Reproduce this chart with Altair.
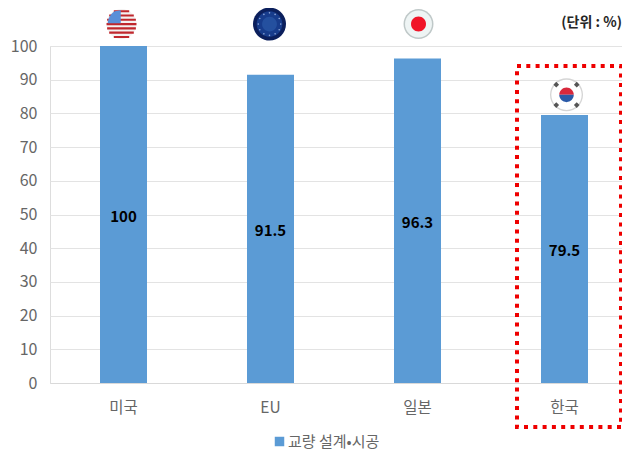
import math
import altair as alt
import pandas as pd

categories = ["미국", "EU", "일본", "한국"]
values = [100, 91.5, 96.3, 79.5]
value_labels = ["100", "91.5", "96.3", "79.5"]
series_name = "교량 설계•시공"
y_ticks = list(range(0, 101, 10))
unit_text = "(단위 : %)"
KR = "Noto Sans CJK KR"

df = pd.DataFrame({"cat": categories, "v": values, "label": value_labels,
                   "mid": [v / 2 for v in values], "series": [series_name] * 4})

x_scale = alt.Scale(domain=categories, range=[0, 588], paddingInner=0.68, paddingOuter=0.34)
y_scale = alt.Scale(domain=[0, 100], nice=False)
X = alt.X("cat:N", scale=x_scale, sort=categories, title=None,
          axis=alt.Axis(labelAngle=0, labelFont=KR, labelFontSize=15.5, labelColor="#666666",
                        labelPadding=17, ticks=False, domainColor="#d9d9d9", domainWidth=1, grid=False))

CIRCLE = "M-1,0A1,1 0 1 1 1,0A1,1 0 1 1 -1,0Z"


def disc(cx, cy, r):
    return f"M{cx - r:.3f},{cy:.3f}A{r},{r} 0 1 1 {cx + r:.3f},{cy:.3f}A{r},{r} 0 1 1 {cx - r:.3f},{cy:.3f}Z"


def stripes():
    n, out = 13, []
    for i in range(0, n, 2):
        y0 = -0.93 + i * 1.86 / n
        y1 = y0 + 1.86 / n
        ym = (abs(y0) + abs(y1)) / 2
        w = math.sqrt(max(0.0, 1 - ym * ym))
        out.append(f"M{-w:.3f},{y0:.3f}L{w:.3f},{y0:.3f}L{w:.3f},{y1:.3f}L{-w:.3f},{y1:.3f}Z")
    return "".join(out)


CANTON = "M-0.92,-0.05L-0.05,-0.05L-0.05,-0.92L-0.45,-0.86A1,1 0 0 0 -0.92,-0.05Z"
STARS = "".join(disc(0.68 * math.cos(i * math.pi / 6), 0.68 * math.sin(i * math.pi / 6), 0.05) for i in range(12))
UPPER = "M-1,0A1,1 0 0 1 1,0L-1,0Z"
LOWER = "M-1,0A1,1 0 0 0 1,0L-1,0Z"
TRI = "".join(
    f"M{sx * 0.62 - 0.17:.2f},{sy * 0.62:.2f}L{sx * 0.62:.2f},{sy * 0.62 - 0.17:.2f}"
    f"L{sx * 0.62 + 0.17:.2f},{sy * 0.62:.2f}L{sx * 0.62:.2f},{sy * 0.62 + 0.17:.2f}Z"
    for sx in (-1, 1) for sy in (-1, 1)
)


def flag(cat, level, dx, d, parts):
    src = pd.DataFrame({"cat": [cat], "v": [level]})
    out = []
    for shape, colour, k in parts:
        out.append(alt.Chart(src).mark_point(shape=shape, filled=True, fill=colour, stroke=None, opacity=1,
                                             size=(d * k) ** 2, xOffset=dx, clip=False)
                   .encode(x=X, y=alt.Y("v:Q", scale=y_scale)))
    return out


bars = alt.Chart(df).mark_bar(size=47).encode(
    x=X,
    y=alt.Y("v:Q", scale=y_scale, title=None,
            axis=alt.Axis(values=y_ticks, grid=True, gridColor="#e3e3e3", gridWidth=1, domain=False, ticks=False,
                          labelOverlap=False, tickCount=11,
                          labelFont=KR, labelFontSize=16, labelColor="#666666", labelPadding=13)),
    color=alt.Color("series:N", scale=alt.Scale(domain=[series_name], range=["#5B9BD5"]),
                    legend=alt.Legend(title=None, orient="none", legendX=222, legendY=388, symbolType="square",
                                      symbolSize=90, symbolStrokeWidth=0, labelFont=KR, labelFontSize=15,
                                      labelColor="#666666", labelOffset=1, padding=0)),
)

labels = alt.Chart(df).mark_text(font=KR, fontSize=15, fontWeight="bold", color="#000000", dy=2).encode(
    x=X, y=alt.Y("mid:Q", scale=y_scale), text="label:N")

unit = alt.Chart(pd.DataFrame({"t": [unit_text]})).mark_text(
    font=KR, fontSize=14, fontWeight="bold", color="#262626", align="right", clip=False
).encode(x=alt.value(572), y=alt.value(-23), text="t:N")

box = alt.Chart(pd.DataFrame({"k": [0]})).mark_rect(
    fill=None, stroke="#EE0000", strokeWidth=4, strokeDash=[4, 5.3], clip=False
).encode(x=alt.value(467), x2=alt.value(571), y=alt.value(20), y2=alt.value(381))

flags = []
flags += flag("미국", 106.5, -2, 30, [(CIRCLE, "#f4f1f1", 1.0), (stripes(), "#c0272d", 1.0), (CANTON, "#5a8fd8", 1.0)])
flags += flag("EU", 106.5, -1, 33, [(CIRCLE, "#0b1f5c", 1.0), (CIRCLE, "#173c8c", 0.78), (CIRCLE, "#24509f", 0.45),
                                    (STARS, "#8fa7d6", 1.0)])
flags += flag("일본", 106.5, 1, 30, [(CIRCLE, "#bfc8c8", 1.0), (CIRCLE, "#eef4f4", 0.9), (CIRCLE, "#f01428", 0.5)])
flags += flag("한국", 85.5, 2, 33, [(CIRCLE, "#d5d5d5", 1.0), (CIRCLE, "#ffffff", 0.92), (TRI, "#555555", 1.0),
                                   (UPPER, "#d8283c", 0.44), (LOWER, "#2a5aa8", 0.44)])

chart = alt.layer(bars, labels, *flags, unit, box).resolve_scale(color="shared").properties(
    width=572, height=337,
    autosize=alt.AutoSizeParams(type="none"),
    padding={"left": 42, "top": 38, "right": 0, "bottom": 68},
).configure_view(stroke=None).configure(background="white")

chart.save("out.html", embed_options={"renderer": "svg", "actions": False})
